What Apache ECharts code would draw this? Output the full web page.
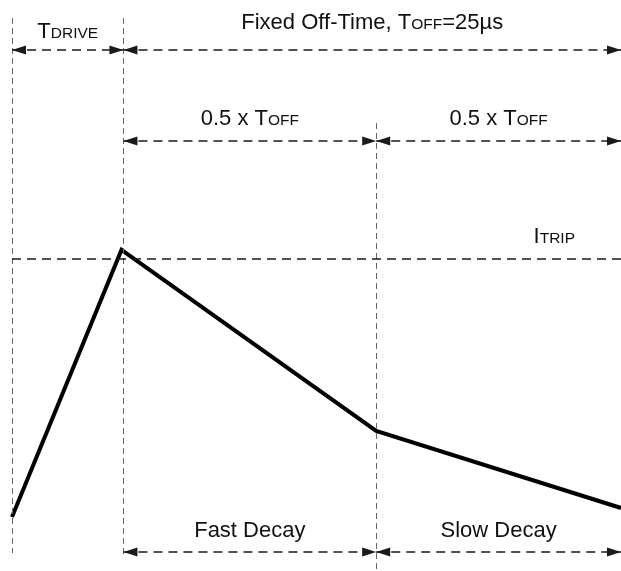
<!DOCTYPE html>
<html>
<head>
<meta charset="utf-8">
<script src="https://cdn.jsdelivr.net/npm/echarts@6/dist/echarts.min.js"></script>
<style>html,body{margin:0;padding:0;background:#fff;}#c{width:621px;height:571px;}</style>
</head>
<body>
<div id="c"></div>
<script>
// ---- data ----
const phaseTimes = [0, 5.6, 18.3, 30.6];          // µs: start, end of TDRIVE, half of TOFF, end of TOFF
const currentTimes = [0, 5.5, 18.3, 30.6];        // µs
const currentValues = [0.173, 1.029, 0.449, 0.202]; // relative to ITRIP
const iTrip = 1.0;
const offTimeLabel = 'Fixed Off-Time, T';
const offTimeSub = 'OFF';
const offTimeValue = '=25µs';
const halfLabel = '0.5 x T';
const decayLabels = ['Fast Decay', 'Slow Decay'];

// ---- layout (pixel rows on a hidden axis) ----
const ROW_TOP = 50, ROW_HALF = 141, ROW_BOTTOM = 552;
const FONT = 'Liberation Sans, Arial, sans-serif';
const rich = {
  a: {fontSize: 22, fontFamily: FONT, color: '#111', verticalAlign: 'bottom', lineHeight: 23},
  b: {fontSize: 15.5, fontFamily: FONT, color: '#111', verticalAlign: 'bottom', lineHeight: 20, padding: [0,0,1,0]}
};
const arrowStyle = {color: '#1a1a1a', width: 1.5, type: [9, 6]};
const vStyle = {color: '#666', width: 1, type: [6, 4]};

function arrow(x1, x2, y, text, dist) {
  return [
    {coord: [x1, y], lineStyle: arrowStyle,
     label: {show: !!text, position: 'middle', distance: dist, formatter: text, rich: rich}},
    {coord: [x2, y]}
  ];
}
function vline(x, y1, y2) {
  return [{coord: [x, y1], lineStyle: vStyle, symbol: 'none', label: {show: false}}, {coord: [x, y2], symbol: 'none'}];
}
const [t0, t1, t2, t3] = phaseTimes;

const chart = echarts.init(document.getElementById('c'), null, {renderer: 'canvas'});
chart.setOption({
  animation: false,
  grid: {left: 12, right: 0, top: 0, bottom: 0},
  xAxis: {type: 'value', min: t0, max: t3, show: false},
  yAxis: [
    {type: 'value', min: 0, max: 1.83, show: false},
    {type: 'value', min: 0, max: 571, inverse: true, show: false}
  ],
  series: [
    {
      type: 'line', yAxisIndex: 1, data: [], silent: true,
      markLine: {
        silent: true, animation: false,
        symbol: ['triangle', 'triangle'], symbolSize: [9, 14],
        symbolOffset: [[0, '50%'], [0, '50%']],
        data: [
          vline(t0, 18, 553),
          vline(t1, 18, 556),
          vline(t2, 123, 571),
          arrow(t0, t1, ROW_TOP, '{a|T}{b|DRIVE}', 7),
          arrow(t1, t3, ROW_TOP, '{a|' + offTimeLabel + '}{b|' + offTimeSub + '}{a|' + offTimeValue + '}', 16),
          arrow(t1, t2, ROW_HALF, '{a|' + halfLabel + '}{b|OFF}', 11),
          arrow(t2, t3, ROW_HALF, '{a|' + halfLabel + '}{b|OFF}', 11),
          arrow(t1, t2, ROW_BOTTOM, '{a|' + decayLabels[0] + '}', 10),
          arrow(t2, t3, ROW_BOTTOM, '{a|' + decayLabels[1] + '}', 10)
        ]
      }
    },
    {
      type: 'line', yAxisIndex: 0, silent: true,
      data: currentTimes.map((t, i) => [t, currentValues[i]]),
      showSymbol: false, symbol: 'none',
      lineStyle: {color: '#000', width: 4, join: 'miter'},
      markLine: {
        silent: true, animation: false, symbol: 'none',
        data: [[
          {coord: [t0, iTrip], lineStyle: arrowStyle,
           label: {show: true, position: 'insideEndTop', distance: [46, 11], formatter: '{a|I}{b|TRIP}', rich: rich}},
          {coord: [t3, iTrip]}
        ]]
      }
    }
  ]
});
</script>
</body>
</html>
